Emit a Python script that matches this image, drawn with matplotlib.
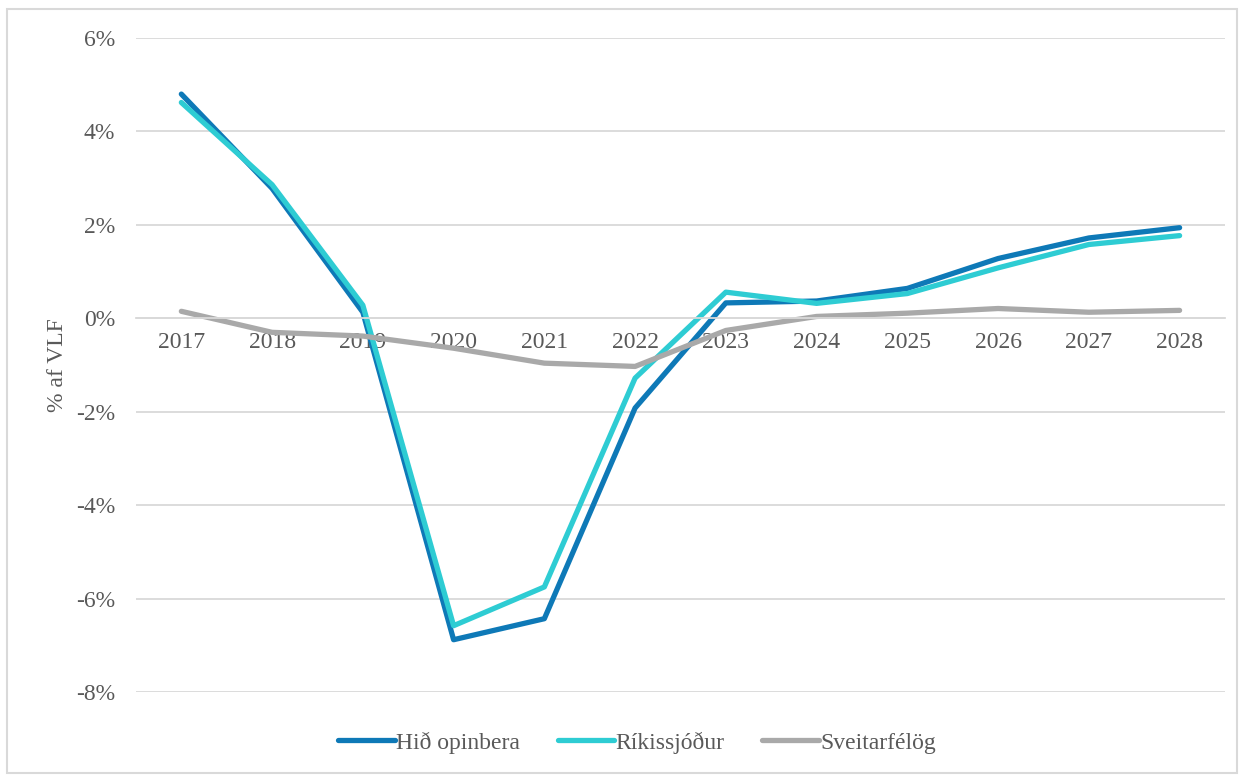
import matplotlib.pyplot as plt
from matplotlib.patches import Rectangle
from matplotlib.ticker import FuncFormatter

plt.rcParams['font.family'] = ['Liberation Serif', 'DejaVu Serif']

ar = ['2017', '2018', '2019', '2020', '2021', '2022',
      '2023', '2024', '2025', '2026', '2027', '2028']
hid_opinbera = [4.80, 2.78, 0.13, -6.88, -6.43, -1.92, 0.33, 0.37, 0.64, 1.28, 1.72, 1.94]
rikissjodur = [4.62, 2.86, 0.28, -6.58, -5.75, -1.28, 0.56, 0.32, 0.53, 1.08, 1.58, 1.77]
sveitarfelog = [0.15, -0.30, -0.38, -0.64, -0.96, -1.03, -0.26, 0.04, 0.11, 0.21, 0.13, 0.17]

txt = '#595959'
fs = 17
fig = plt.figure(figsize=(12.44, 7.76), dpi=100)
ax = fig.add_axes([0.1093, 0.1082, 0.8754, 0.8428])

x = range(len(ar))
ax.plot(x, hid_opinbera, color='#0E79B7', lw=3.8, label='Hið opinbera', solid_capstyle='round')
ax.plot(x, rikissjodur, color='#2ECCD3', lw=3.8, label='Ríkissjóður', solid_capstyle='round')
ax.plot(x, sveitarfelog, color='#A9A9A9', lw=3.8, label='Sveitarfélög', solid_capstyle='round')

ax.set_xlim(-0.5, 11.5)
ax.set_ylim(-8, 6)
ax.set_yticks(range(-8, 7, 2))
ax.yaxis.set_major_formatter(FuncFormatter(lambda v, p: f'{v:.0f}%'))
ax.set_xticks(list(x))
ax.set_xticklabels(ar)
ax.grid(axis='y', color='#D9D9D9', lw=1.3)
ax.set_axisbelow(True)
for s in ['top', 'right', 'left']:
    ax.spines[s].set_visible(False)
ax.spines['bottom'].set_position(('data', 0))
ax.spines['bottom'].set_color('#D9D9D9')
ax.spines['bottom'].set_linewidth(1.3)
ax.tick_params(axis='both', length=0, labelsize=fs, labelcolor=txt)
ax.tick_params(axis='x', pad=10)
ax.tick_params(axis='y', pad=15)
ax.set_ylabel('% af VLF', fontsize=fs, color=txt, labelpad=6)

fig.legend(loc='center', bbox_to_anchor=(0.512, 0.043), ncol=3, frameon=False,
           fontsize=fs, labelcolor=txt, handlelength=2.4, handletextpad=0.05,
           columnspacing=1.6)

fig.patches.append(Rectangle((0.006, 0.004), 0.988, 0.985, transform=fig.transFigure,
                             fill=False, edgecolor='#D9D9D9', lw=1.5))

fig.savefig('out.png', dpi=100)
